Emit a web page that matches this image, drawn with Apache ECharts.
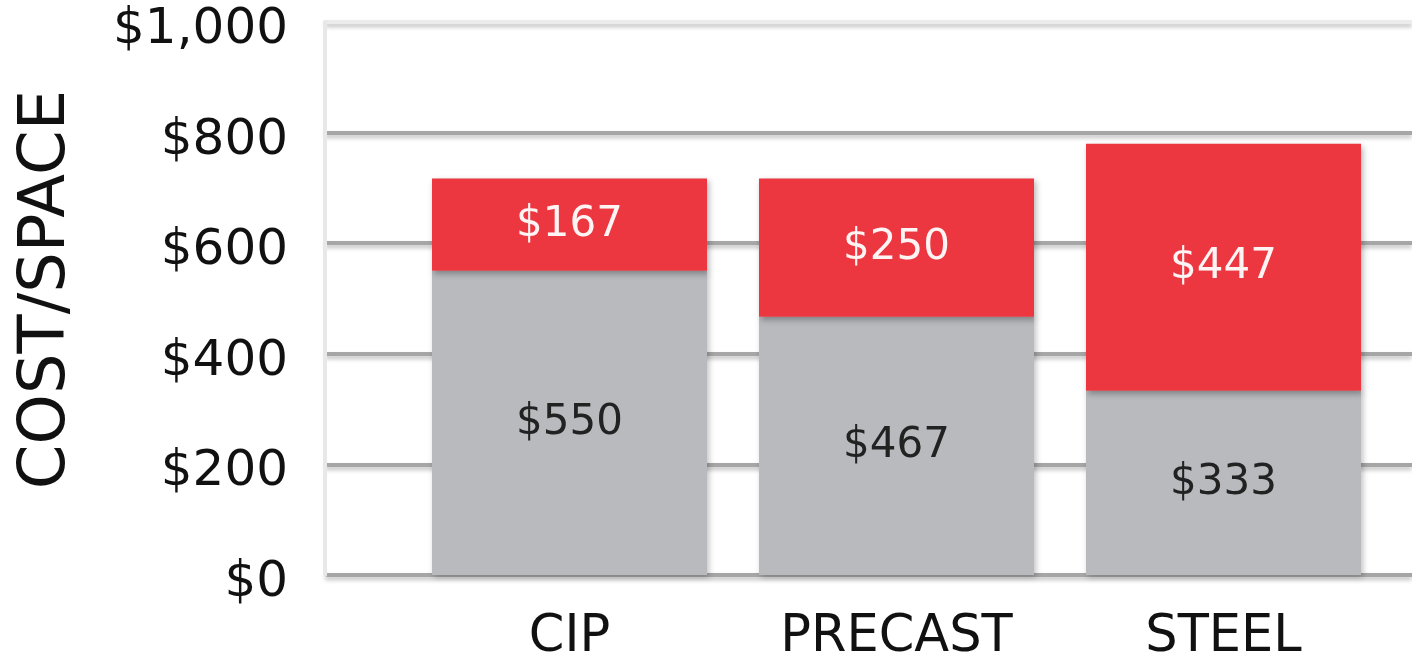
<!DOCTYPE html>
<html>
<head>
<meta charset="utf-8">
<script src="https://cdn.jsdelivr.net/npm/echarts@6/dist/echarts.min.js"></script>
<style>
html,body{margin:0;padding:0;background:#fff;}
#chart{width:1412px;height:657px;}
</style>
</head>
<body>
<div id="chart"></div>
<script>
const categories = ['CIP', 'PRECAST', 'STEEL'];
const baseValues = [550, 467, 333];
const topValues = [167, 250, 447];
const yTicks = [0, 200, 400, 600, 800, 1000];
const yTitle = 'COST/SPACE';

const FONT = 'DejaVu Sans';
const chart = echarts.init(document.getElementById('chart'), null, {renderer: 'canvas'});

const fmt = v => '$' + v.toLocaleString('en-US');

chart.setOption({
  animation: false,
  backgroundColor: '#ffffff',
  grid: [
    {left: 325, right: 0, top: 22, bottom: 82, containLabel: false, outerBoundsMode: 'none'},
    {left: 406, right: 25, top: 22, bottom: 82, containLabel: false, outerBoundsMode: 'none'}
  ],
  xAxis: [
    {type: 'category', gridIndex: 0, data: categories, show: false},
    {
      type: 'category', gridIndex: 1, data: categories,
      axisLine: {show: false}, axisTick: {show: false},
      axisLabel: {fontFamily: FONT, fontSize: 51, color: '#111', margin: 37}
    }
  ],
  yAxis: [
    {
      type: 'value', gridIndex: 0, min: yTicks[0], max: yTicks[yTicks.length - 1], interval: 200,
      name: yTitle, nameLocation: 'middle', nameGap: 246, nameRotate: 90,
      nameTextStyle: {fontFamily: FONT, fontSize: 64, color: '#111', padding: [0, 0, 0, 18]},
      axisLine: {show: true, lineStyle: {color: '#e8e8e8', width: 4}},
      axisTick: {show: false},
      axisLabel: {
        fontFamily: FONT, fontSize: 50, color: '#111', margin: 37,
        verticalAlign: 'top', lineHeight: 16,
        formatter: v => fmt(v)
      },
      splitLine: {
        show: true,
        lineStyle: {
          color: ['#a6a6a6', '#a6a6a6', '#a6a6a6', '#a6a6a6', '#a6a6a6', '#ececec'],
          width: 4,
          shadowBlur: 4, shadowColor: 'rgba(0,0,0,0.25)', shadowOffsetY: 3
        }
      }
    },
    {
      type: 'value', gridIndex: 1, min: yTicks[0], max: yTicks[yTicks.length - 1], interval: 200,
      show: false, splitLine: {show: false}
    }
  ],
  series: [
    {
      type: 'bar', xAxisIndex: 1, yAxisIndex: 1, stack: 'total',
      data: baseValues, barWidth: 275,
      itemStyle: {color: '#b9babe', shadowBlur: 6, shadowColor: 'rgba(0,0,0,0.25)', shadowOffsetX: 2, shadowOffsetY: 2},
      label: {show: true, position: 'inside', formatter: p => fmt(p.value),
        fontFamily: FONT, fontSize: 42, color: '#222'}
    },
    {
      type: 'bar', xAxisIndex: 1, yAxisIndex: 1, stack: 'total',
      data: topValues, barWidth: 275,
      itemStyle: {color: '#ec3640', shadowBlur: 6, shadowColor: 'rgba(0,0,0,0.3)', shadowOffsetX: 2, shadowOffsetY: 3},
      label: {show: true, position: 'inside', formatter: p => fmt(p.value),
        fontFamily: FONT, fontSize: 42, color: '#fff4f4'}
    }
  ]
});
</script>
</body>
</html>
